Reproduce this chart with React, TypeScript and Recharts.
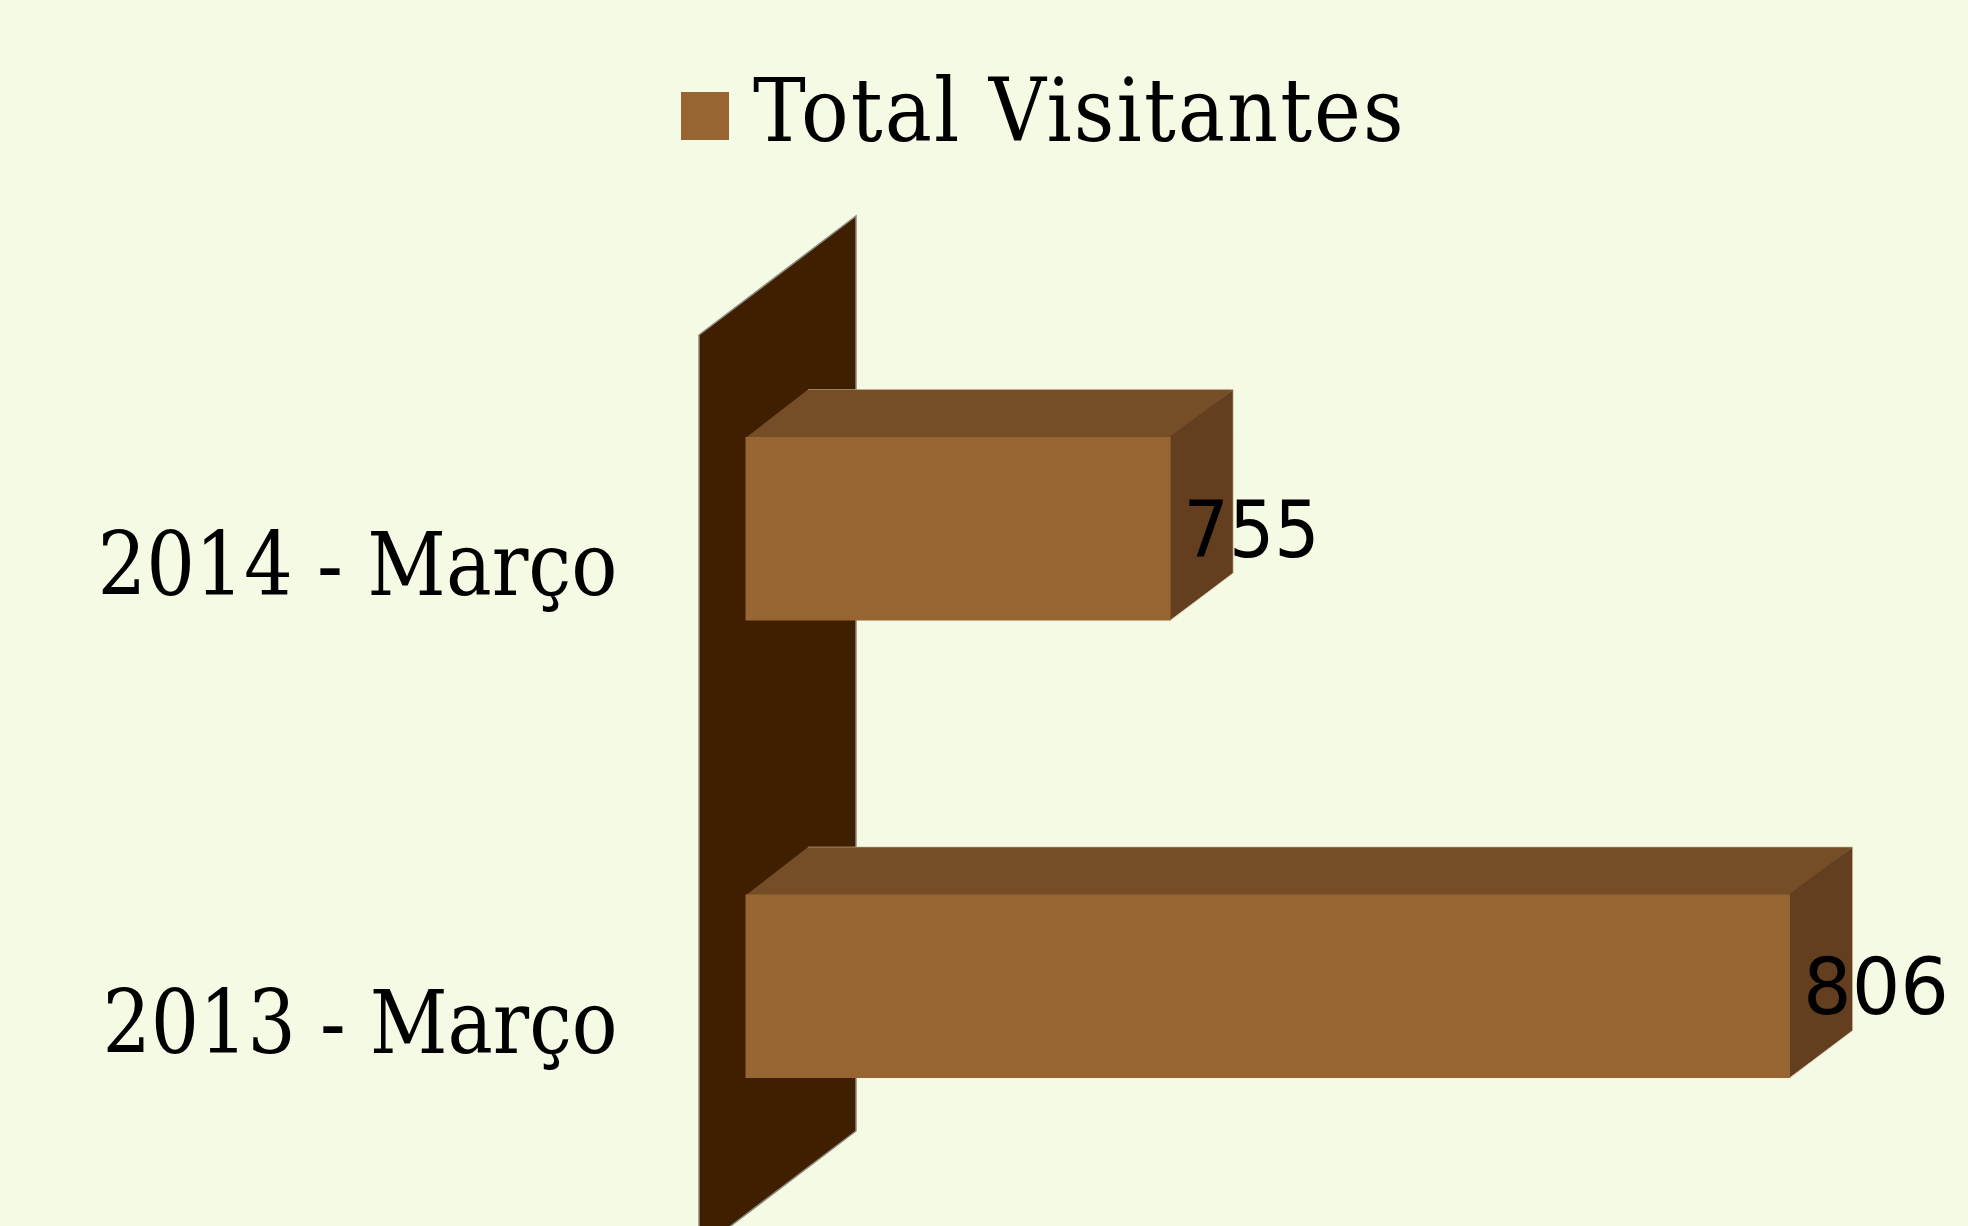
import React from 'react';
import { BarChart, Bar, XAxis, YAxis, Legend, LabelList, ReferenceArea } from 'recharts';

const categories = ['2014 - Março', '2013 - Março'];
const visitors = [755, 806];
const seriesName = 'Total Visitantes';
const rows = categories.map((periodo, i) => ({ periodo, visitantes: visitors[i] }));

const BG = '#f4fae3';
const FRONT = '#976532';
const TOP = '#754e27';
const SIDE = '#633f1f';
const WALL = '#401f00';
const SERIF = '"DejaVu Serif Condensed", "DejaVu Serif", serif';
const SANS = '"DejaVu Sans Condensed", "DejaVu Sans", sans-serif';

const BAR_DX = 62.5;
const BAR_DY = 47.5;

const Box3D = (p: any) => {
  const { x, y, width, height } = p;
  const r = x + width;
  const b = y + height;
  return (
    <g>
      <polygon points={`${x},${y + 1} ${x + BAR_DX},${y - BAR_DY} ${r + BAR_DX},${y - BAR_DY} ${r},${y + 1}`} fill={TOP} />
      <polygon points={`${r - 1},${y} ${r + BAR_DX},${y - BAR_DY} ${r + BAR_DX},${b - BAR_DY} ${r - 1},${b}`} fill={SIDE} />
      <rect x={x} y={y} width={width} height={height} fill={FRONT} />
      <polyline
        points={`${x + BAR_DX},${y - BAR_DY} ${r + BAR_DX},${y - BAR_DY} ${r + BAR_DX},${b - BAR_DY} ${r},${b}`}
        fill="none"
        stroke="#c9b48f"
        strokeOpacity={0.6}
        strokeWidth={1}
      />
    </g>
  );
};

const Wall = (p: any) => {
  const { x, y, height } = p;
  const fx = x - 46.5;
  const fy = y + 35;
  const dx = 157;
  const dy = 119;
  return (
    <polygon
      points={`${fx},${fy} ${fx + dx},${fy - dy} ${fx + dx},${fy - dy + height} ${fx},${fy + height}`}
      fill={WALL}
      stroke="#8a8a80"
      strokeWidth={1.5}
    />
  );
};

const CategoryTick = (p: any) => (
  <text
    x={617.5}
    y={p.y + 35}
    dy="0.36em"
    textAnchor="end"
    fontFamily={SERIF}
    fontSize={88}
    fill="#000"
    textLength={p.index === 0 ? 520 : 515}
    lengthAdjust="spacingAndGlyphs"
  >
    {p.payload.value}
  </text>
);

const ValueLabel = (p: any) => (
  <text
    x={p.x + p.width + 13}
    y={p.y + p.height / 2}
    dy="0.36em"
    fontFamily={SANS}
    fontSize={78}
    fill="#000"
    textLength={p.value === 806 ? 146 : 136}
    lengthAdjust="spacingAndGlyphs"
  >
    {p.value}
  </text>
);

export default function App() {
  return (
    <div style={{ position: 'absolute', left: 0, top: 0, width: 1968, height: 1226, overflow: 'hidden', background: BG }}>
      <BarChart
        width={1968}
        height={1226}
        data={rows}
        layout="vertical"
        barSize={183.5}
        margin={{ top: 300, right: 178, bottom: 11, left: 0 }}
      >
        <XAxis type="number" domain={[720, 806]} hide />
        <YAxis
          type="category"
          dataKey="periodo"
          width={745.5}
          axisLine={false}
          tickLine={false}
          tick={CategoryTick}
          interval={0}
        />
        <Legend
          verticalAlign="top"
          align="left"
          iconType="square"
          iconSize={48}
          wrapperStyle={{ left: 681, top: 57, height: 0, width: 900, fontFamily: SERIF, fontSize: 88 }}
          formatter={(v: string) => (
            <span style={{ color: '#000', marginLeft: 20, letterSpacing: 2.1, position: 'relative', top: 2 }}>{v}</span>
          )}
        />
        <ReferenceArea x1={720} x2={806} shape={Wall} ifOverflow="visible" />
        <Bar dataKey="visitantes" name={seriesName} fill={FRONT} shape={Box3D} isAnimationActive={false}>
          <LabelList dataKey="visitantes" content={ValueLabel} />
        </Bar>
      </BarChart>
    </div>
  );
}
